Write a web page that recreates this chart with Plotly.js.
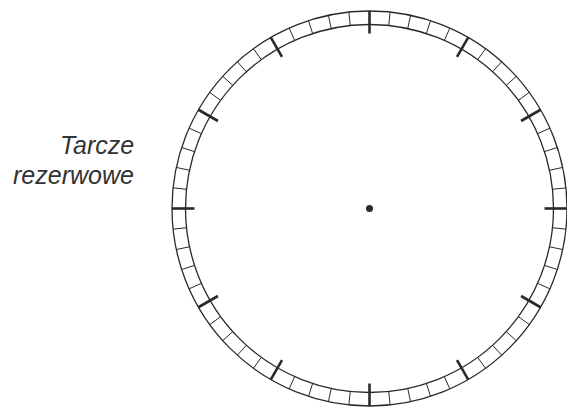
<!DOCTYPE html>
<html>
<head>
<meta charset="utf-8">
<script src="https://cdn.plot.ly/plotly-3.0.1.min.js"></script>
<style>html,body{margin:0;padding:0;background:#fff;}#chart{width:567px;height:408px;}</style>
</head>
<body>
<div id="chart"></div>
<script>
// Minute divisions of the dial (60 small marks) and hour marks (12 long marks)
const minuteMarks = [0,1,2,3,4,5,6,7,8,9,10,11,12,13,14,15,16,17,18,19,20,21,22,23,24,25,26,27,28,29,30,31,32,33,34,35,36,37,38,39,40,41,42,43,44,45,46,47,48,49,50,51,52,53,54,55,56,57,58,59];
const hourMarks = [0,5,10,15,20,25,30,35,40,45,50,55];
const labelLines = ["Tarcze", "rezerwowe"];

// geometry (pixel units, 1 data unit = 1 px)
const CX = 369.5, CY = 208.5;
const R_OUT = 197.5, R_IN = 184, R_HOUR = 175;
const W = 567, H = 408;
const ink = "#2a2a2a";

function radial(marks, r0, r1) {
  const xs = [], ys = [];
  marks.forEach(m => {
    const a = Math.PI/2 - m * 2*Math.PI/60;
    xs.push(r0*Math.cos(a), r1*Math.cos(a), null);
    ys.push(r0*Math.sin(a), r1*Math.sin(a), null);
  });
  return {x: xs, y: ys};
}

const minor = radial(minuteMarks, R_IN, R_OUT);
const major = radial(hourMarks, R_HOUR, R_OUT);

const traces = [
  {type:"scatter", mode:"lines", x: minor.x, y: minor.y, line:{color:ink, width:1}, hoverinfo:"skip"},
  {type:"scatter", mode:"lines", x: major.x, y: major.y, line:{color:ink, width:2.6}, hoverinfo:"skip"},
  {type:"scatter", mode:"markers", x:[0], y:[0], marker:{color:ink, size:7}, hoverinfo:"skip"}
];

const lineCentersPx = [145, 175];
const layout = {
  width: W, height: H,
  margin:{l:0,r:0,t:0,b:0},
  paper_bgcolor:"#fff", plot_bgcolor:"#fff",
  showlegend:false,
  xaxis:{range:[-CX, W-CX], visible:false, fixedrange:true},
  yaxis:{range:[-(H-CY), CY], visible:false, fixedrange:true},
  shapes:[
    {type:"circle", xref:"x", yref:"y", x0:-R_OUT, x1:R_OUT, y0:-R_OUT, y1:R_OUT, line:{color:ink, width:1.3}},
    {type:"circle", xref:"x", yref:"y", x0:-R_IN, x1:R_IN, y0:-R_IN, y1:R_IN, line:{color:ink, width:1.3}}
  ],
  annotations: labelLines.map((t, i) => ({
    xref:"x", yref:"y", x: 136 - CX, y: CY - lineCentersPx[i],
    xanchor:"right", yanchor:"middle", align:"right", showarrow:false,
    text: "<i>" + t + "</i>",
    font:{family:"Liberation Sans, Arial, sans-serif", size:25, color:"#333"}
  }))
};

Plotly.newPlot("chart", traces, layout, {staticPlot:true, displayModeBar:false});
</script>
</body>
</html>
